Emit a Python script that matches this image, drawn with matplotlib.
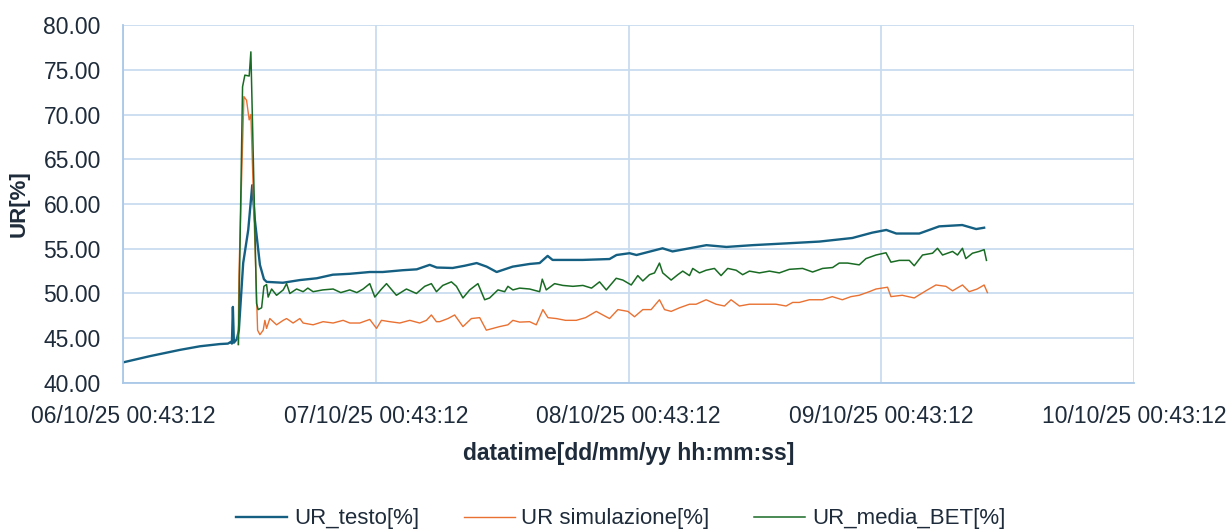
import datetime as dt

import matplotlib
matplotlib.use('Agg')
import matplotlib.dates as mdates
import matplotlib.pyplot as plt

plt.rcParams['font.family'] = ['Liberation Sans', 'DejaVu Sans']

start = dt.datetime(2025, 10, 6, 0, 43, 12)

# hours since start
h_testo = [0.0, 2.56, 5.41, 7.30, 9.20, 9.96, 10.25, 10.34, 10.43, 10.53, 10.81, 11.0,
           11.41, 11.89, 12.27, 12.52, 13.0, 13.38, 13.63, 15.18, 16.79, 18.40, 19.92,
           21.53, 23.43, 24.66, 26.56, 27.89, 29.12, 29.79, 31.30, 32.44, 33.58, 34.53,
           35.48, 37.0, 38.61, 39.56, 40.32, 40.79, 43.64, 46.20, 46.86, 48.10, 48.76,
           51.23, 52.18, 55.40, 57.30, 59.77, 62.99, 66.12, 69.25, 71.15, 72.48, 73.43,
           75.61, 77.5, 79.69, 81.01, 81.77]
ur_testo = [42.3, 43.0, 43.7, 44.1, 44.35, 44.4, 44.6, 44.4, 48.5, 44.5, 44.9, 45.9,
            53.4, 57.1, 62.1, 58.2, 53.2, 51.6, 51.3, 51.2, 51.5, 51.7, 52.1,
            52.2, 52.4, 52.4, 52.6, 52.7, 53.2, 52.9, 52.85, 53.1, 53.4, 53.0,
            52.4, 53.0, 53.3, 53.4, 54.2, 53.75, 53.75, 53.85, 54.3, 54.5, 54.3,
            55.05, 54.7, 55.4, 55.2, 55.4, 55.6, 55.8, 56.2, 56.8, 57.1, 56.7,
            56.7, 57.5, 57.65, 57.2, 57.35]

h_sim = [10.94, 11.0, 11.48, 11.73, 11.98, 12.14, 12.78, 13.0, 13.31, 13.47, 13.63, 13.94,
         14.58, 15.21, 15.53, 16.15, 16.79, 17.10, 18.05, 19.0, 19.95, 20.90, 21.53,
         22.48, 23.43, 24.07, 24.54, 25.33, 26.28, 27.23, 28.17, 28.81, 29.28, 29.76,
         30.07, 30.86, 31.49, 32.28, 33.08, 33.87, 34.50, 35.13, 35.76, 36.55, 37.02,
         37.66, 38.61, 39.24, 39.87, 40.35, 41.14, 42.02, 43.04, 43.92, 44.94, 45.72,
         46.20, 46.99, 47.94, 48.57, 49.36, 50.15, 50.94, 51.42, 52.05, 52.84, 53.79,
         54.42, 55.37, 56.32, 57.11, 57.74, 58.53, 59.48, 60.74, 62.01, 62.96, 63.59,
         64.22, 65.17, 66.40, 67.35, 68.30, 69.13, 69.91, 70.86, 71.50, 72.60, 72.92,
         73.99, 75.13, 76.24, 77.19, 78.14, 78.77, 79.71, 80.35, 81.11, 81.77, 82.08]
ur_sim = [44.3, 51.9, 72.0, 71.6, 69.4, 70.0, 45.9, 45.4, 45.9, 47.0, 46.1, 47.2,
          46.5, 47.0, 47.2, 46.7, 47.2, 46.7, 46.5, 46.85, 46.7, 47.0, 46.7,
          46.7, 47.1, 46.1, 47.0, 46.85, 46.7, 47.0, 46.7, 47.0, 47.6, 46.85,
          46.85, 47.2, 47.6, 46.3, 47.2, 47.3, 45.9, 46.1, 46.3, 46.5, 47.0,
          46.8, 46.85, 46.5, 48.2, 47.3, 47.2, 47.0, 47.0, 47.3, 48.0, 47.5,
          47.2, 48.2, 48.0, 47.4, 48.2, 48.2, 49.3, 48.2, 48.0, 48.4, 48.8,
          48.8, 49.3, 48.8, 48.6, 49.3, 48.6, 48.8, 48.8, 48.8, 48.6, 49.0,
          49.0, 49.3, 49.3, 49.65, 49.3, 49.65, 49.8, 50.2, 50.5, 50.7, 49.65,
          49.8, 49.5, 50.3, 50.95, 50.8, 50.3, 50.95, 50.2, 50.5, 50.95, 50.1]

h_bet = [10.96, 11.35, 11.57, 11.98, 12.14, 12.36, 12.68, 12.83, 13.16, 13.38, 13.63, 13.78,
         14.11, 14.58, 15.21, 15.53, 15.84, 16.48, 17.10, 17.55, 18.05, 18.97, 19.95,
         20.68, 21.53, 22.20, 22.80, 23.43, 23.91, 24.47, 25.02, 25.96, 26.91, 27.86,
         28.65, 29.28, 29.76, 30.36, 31.18, 31.66, 32.28, 32.92, 33.70, 34.34, 34.81,
         35.60, 36.24, 36.55, 37.02, 37.66, 38.61, 39.56, 39.81, 40.19, 40.98, 41.77,
         42.72, 43.67, 44.49, 45.25, 45.89, 46.83, 47.46, 48.26, 48.88, 49.36, 49.99,
         50.47, 50.94, 51.25, 52.05, 52.68, 53.15, 53.79, 54.10, 54.74, 55.37, 56.16,
         56.79, 57.42, 58.22, 58.84, 59.48, 60.43, 61.38, 62.32, 63.27, 64.53, 65.48,
         66.43, 67.38, 68.01, 68.80, 69.91, 70.55, 71.50, 72.45, 72.92, 73.71, 74.66,
         75.13, 75.92, 76.87, 77.34, 77.82, 78.77, 79.24, 79.71, 80.03, 80.66, 81.30,
         81.77, 81.99]
ur_bet = [44.3, 73.1, 74.4, 74.3, 77.0, 65.7, 48.9, 48.2, 48.4, 50.8, 51.0, 49.6,
          50.5, 49.8, 50.4, 51.1, 50.0, 50.5, 50.2, 50.6, 50.2, 50.4, 50.5,
          50.1, 50.4, 50.1, 50.5, 51.1, 49.6, 50.4, 51.1, 49.8, 50.5, 50.0,
          50.8, 51.1, 50.2, 50.9, 51.3, 50.8, 49.5, 50.4, 51.1, 49.3, 49.5,
          50.4, 50.2, 50.8, 50.4, 50.6, 50.5, 50.2, 51.6, 50.4, 51.1, 50.9,
          50.8, 50.9, 50.6, 51.3, 50.4, 51.7, 51.5, 50.95, 52.0, 51.4, 52.1,
          52.3, 53.4, 52.3, 51.5, 52.1, 52.5, 52.0, 52.8, 52.3, 52.6, 52.8,
          52.0, 52.8, 52.6, 52.1, 52.5, 52.3, 52.5, 52.3, 52.7, 52.8, 52.4,
          52.8, 52.9, 53.4, 53.4, 53.2, 53.9, 54.3, 54.55, 53.5, 53.7, 53.7,
          53.1, 54.3, 54.5, 55.05, 54.3, 54.7, 54.3, 55.05, 53.9, 54.5, 54.7,
          54.9, 53.7]


def to_dates(hours):
    return [start + dt.timedelta(hours=h) for h in hours]


text_col = '#1E2B3A'

fig = plt.figure(figsize=(12.29, 5.30), dpi=100)
ax = fig.add_axes([0.1001, 0.2774, 0.8226, 0.6754])

ax.plot(to_dates(h_testo), ur_testo, color='#156082', lw=1.7, label='UR_testo[%]')
ax.plot(to_dates(h_sim), ur_sim, color='#E97132', lw=1.0, label='UR simulazione[%]')
ax.plot(to_dates(h_bet), ur_bet, color='#196B24', lw=1.1, label='UR_media_BET[%]')

ax.set_xlim(start, start + dt.timedelta(days=4))
ax.set_ylim(40, 80)
ax.set_yticks([40, 45, 50, 55, 60, 65, 70, 75, 80])
ax.yaxis.set_major_formatter(matplotlib.ticker.FormatStrFormatter('%.2f'))
ax.set_xticks([start + dt.timedelta(days=d) for d in range(5)])
ax.xaxis.set_major_formatter(mdates.DateFormatter('%d/%m/%y %H:%M:%S'))

grid_col = '#C8DCF0'
ax.grid(True, color=grid_col, lw=1.3)
ax.set_axisbelow(True)
for s in ['top', 'right']:
    ax.spines[s].set_visible(False)
for s in ['left', 'bottom']:
    ax.spines[s].set_color('#A9C8E8')
    ax.spines[s].set_linewidth(1.3)
ax.tick_params(length=0, labelsize=16.5, colors=text_col)
ax.tick_params(axis='y', pad=16)
ax.tick_params(axis='x', pad=16)

ax.set_ylabel('UR[%]', fontsize=16, fontweight='bold', color=text_col, labelpad=10)
ax.set_xlabel('datatime[dd/mm/yy hh:mm:ss]', fontsize=16.5, fontweight='bold',
              color=text_col, labelpad=10)

leg = fig.legend(loc='center', bbox_to_anchor=(0.505, 0.021), ncol=3, frameon=False,
                 fontsize=16, handlelength=2.3, columnspacing=2.0, handletextpad=0.3)
for t in leg.get_texts():
    t.set_color(text_col)

fig.savefig('out.png', dpi=100)
